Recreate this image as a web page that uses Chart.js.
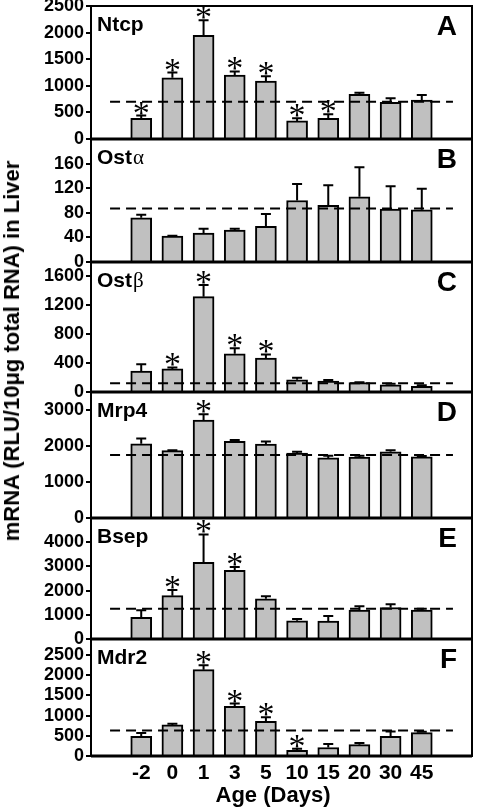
<!DOCTYPE html>
<html><head><meta charset="utf-8">
<script src="https://cdn.jsdelivr.net/npm/chart.js@4.4.0/dist/chart.umd.min.js"></script>
<style>
html,body{margin:0;padding:0;background:#fff;}
#wrap{position:relative;width:477px;height:807px;overflow:hidden;background:#fff;}
canvas{position:absolute;left:0;top:0;}
.ytitle{position:absolute;left:12px;top:351px;transform:translate(-50%,-50%) rotate(-90deg);white-space:nowrap;font:bold 22px "Liberation Sans",Arial,sans-serif;color:#000;line-height:1;}
.xtitle{position:absolute;left:273px;top:795px;transform:translate(-50%,-50%);white-space:nowrap;font:bold 22px "Liberation Sans",Arial,sans-serif;color:#000;line-height:1;}
</style></head><body>
<div id="wrap">
<canvas id="c0" width="477" height="807"></canvas>
<canvas id="c1" width="477" height="807"></canvas>
<canvas id="c2" width="477" height="807"></canvas>
<canvas id="c3" width="477" height="807"></canvas>
<canvas id="c4" width="477" height="807"></canvas>
<canvas id="c5" width="477" height="807"></canvas>
<div class="ytitle">mRNA (RLU/10μg total RNA) in Liver</div>
<div class="xtitle">Age (Days)</div>
</div>
<script>
// ---- data ----
const ages = ['-2','0','1','3','5','10','15','20','30','45'];

const ntcp     = [390,1150,1950,1200,1090,340,390,840,690,730];
const ntcpErr  = [50,100,280,70,90,50,75,30,75,95];
const ntcpSig  = [1,1,1,1,1,1,1,0,0,0];
const ntcpRef  = 700;
const ntcpTicks = [0,500,1000,1500,2000,2500];

const osta     = [72,42,47,52,58,100,92,106,86,85];
const ostaErr  = [5,0.5,7,2,20,27,33,48,37,34];
const ostaSig  = [0,0,0,0,0,0,0,0,0,0];
const ostaRef  = 87;
const ostaTicks = [0,40,80,120,160];

const ostb     = [290,320,1320,530,470,170,150,130,100,80];
const ostbErr  = [95,20,160,75,50,28,15,5,15,15];
const ostbSig  = [0,1,1,1,1,0,0,0,0,0];
const ostbRef  = 120;
const ostbTicks = [0,400,800,1200,1600];

const mrp4     = [2060,1870,2720,2130,2050,1800,1670,1690,1840,1700];
const mrp4Err  = [150,15,165,40,75,40,60,40,40,20];
const mrp4Sig  = [0,0,1,0,0,0,0,0,0,0];
const mrp4Ref  = 1750;
const mrp4Ticks = [0,1000,2000,3000];

const bsep     = [900,1790,3170,2840,1660,750,740,1200,1300,1190];
const bsepErr  = [290,230,1150,135,110,80,210,150,135,60];
const bsepSig  = [0,1,1,1,0,0,0,0,0,0];
const bsepRef  = 1250;
const bsepTicks = [0,1000,2000,3000,4000];

const mdr2     = [490,770,2140,1230,860,140,210,280,490,580];
const mdr2Err  = [80,30,110,70,100,40,85,40,120,20];
const mdr2Sig  = [0,0,1,1,1,1,0,0,0,0];
const mdr2Ref  = 630;
const mdr2Ticks = [0,500,1000,1500,2000,2500];

const geneNames = ['Ntcp','Ost','Ost','Mrp4','Bsep','Mdr2'];
const geneSyms  = ['','α','β','','',''];
const panelLetters = ['A','B','C','D','E','F'];
const axisMax = [2500,200,1800,3500,5000,2900];

// ---- layout (pixels) ----
const bounds = [[6,139],[139,262],[262,392],[392,518],[518,639],[639,756]];
const FONT = '"Liberation Sans", Arial, sans-serif';

const panels = [
  {vals:ntcp, err:ntcpErr, sig:ntcpSig, ref:ntcpRef, ticks:ntcpTicks},
  {vals:osta, err:ostaErr, sig:ostaSig, ref:ostaRef, ticks:ostaTicks},
  {vals:ostb, err:ostbErr, sig:ostbSig, ref:ostbRef, ticks:ostbTicks},
  {vals:mrp4, err:mrp4Err, sig:mrp4Sig, ref:mrp4Ref, ticks:mrp4Ticks},
  {vals:bsep, err:bsepErr, sig:bsepSig, ref:bsepRef, ticks:bsepTicks},
  {vals:mdr2, err:mdr2Err, sig:mdr2Sig, ref:mdr2Ref, ticks:mdr2Ticks}
];
panels.forEach((p,k)=>{p.name=geneNames[k];p.sym=geneSyms[k];p.letter=panelLetters[k];p.max=axisMax[k];});

const decor = {
  id:'panelDecor',
  afterDatasetsDraw(chart, args, opts){
    const p = opts.panel, ctx = chart.ctx, xs = chart.scales.x, ys = chart.scales.y;
    const a = chart.chartArea;
    ctx.save();
    ctx.strokeStyle = '#000'; ctx.fillStyle = '#000'; ctx.lineWidth = 2;
    p.vals.forEach((v,i)=>{
      const x = xs.getPixelForValue(i);
      const y0 = ys.getPixelForValue(v);
      const y1 = ys.getPixelForValue(v + p.err[i]);
      ctx.beginPath();
      ctx.moveTo(x, y0); ctx.lineTo(x, y1);
      ctx.moveTo(x-5, y1); ctx.lineTo(x+5, y1);
      ctx.stroke();
      if (p.sig[i]) {
        ctx.font = '34px "Liberation Serif", serif';
        ctx.textAlign = 'center'; ctx.textBaseline = 'alphabetic';
        const m = ctx.measureText('*');
        ctx.fillText('*', x, y1 - 1 - m.actualBoundingBoxDescent);
      }
    });
    // frame
    ctx.lineWidth = 2;
    ctx.strokeRect(a.left, a.top, a.right - a.left, a.bottom - a.top);
    ctx.lineWidth = 3;
    ctx.beginPath(); ctx.moveTo(a.left, a.bottom); ctx.lineTo(a.right, a.bottom); ctx.stroke();
    // gene label
    ctx.textAlign = 'left'; ctx.textBaseline = 'alphabetic';
    ctx.font = 'bold 21px ' + FONT;
    ctx.fillText(p.name, a.left + 6, a.top + 25);
    if (p.sym) {
      const w = ctx.measureText(p.name).width;
      ctx.font = '21px "Liberation Serif", serif';
      ctx.fillText(p.sym, a.left + 7 + w, a.top + 25);
    }
    // panel letter
    ctx.font = 'bold 28px ' + FONT;
    ctx.textAlign = 'right';
    ctx.fillText(p.letter, a.right - 15, a.top + 29);
    ctx.restore();
  }
};

panels.forEach((p,k)=>{
  const [top,bottom] = bounds[k];
  const isLast = k === panels.length - 1;
  const xH = isLast ? 51 : 0;
  new Chart(document.getElementById('c'+k), {
    type:'bar',
    data:{datasets:[
      {type:'line', data:[{x:-1,y:p.ref},{x:10,y:p.ref}], borderColor:'#000', borderWidth:2,
       borderDash:[10,6], pointRadius:0, fill:false, order:0},
      {type:'bar', data:p.vals.map((v,i)=>({x:i,y:v})), backgroundColor:'#c0c0c0',
       borderColor:'#000', borderWidth:2, barThickness:21, order:1}
    ]},
    options:{
      responsive:false, animation:false, events:[],
      layout:{padding:{top:top, bottom:807-bottom-xH, left:0, right:5}},
      plugins:{legend:{display:false}, tooltip:{enabled:false}, panelDecor:{panel:p}},
      scales:{
        x:{type:'linear', min:-1, max:10, display:isLast,
           grid:{display:false, drawTicks:false}, border:{display:false},
           afterBuildTicks:s=>{s.ticks = ages.map((_,i)=>({value:i}));},
           afterFit:s=>{s.height = xH; s.paddingLeft = 0; s.paddingRight = 0;},
           ticks:{autoSkip:false, maxRotation:0, minRotation:0, padding:5, color:'#000',
                  font:{family:FONT, size:21, weight:'bold'}, callback:(v)=>ages[v]}},
        y:{type:'linear', min:0, max:p.max,
           afterBuildTicks:s=>{s.ticks = p.ticks.map(v=>({value:v}));},
           afterFit:s=>{s.width = 91; s.paddingTop = 0; s.paddingBottom = 0;},
           grid:{display:true, drawOnChartArea:false, drawTicks:true, tickLength:5, color:'#000', lineWidth:2},
           border:{display:false},
           ticks:{autoSkip:false, padding:2, color:'#000', font:{family:FONT, size:18, weight:'bold'}, callback:(v)=>String(v)}}
      }
    },
    plugins:[decor]
  });
});
</script>
</body></html>
